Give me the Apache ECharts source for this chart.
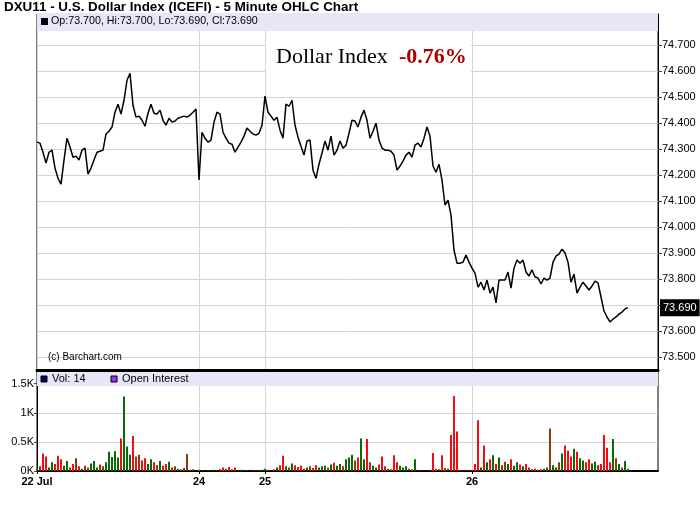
<!DOCTYPE html>
<html><head><meta charset="utf-8">
<script src="https://cdn.jsdelivr.net/npm/echarts@6/dist/echarts.min.js"></script>
<style>html,body{margin:0;padding:0;background:#fff}#c{width:700px;height:512px}</style>
</head><body><div id="c"></div>
<script>
// ---- data ----
const chartTitle = 'DXU11 - U.S. Dollar Index (ICEFI) - 5 Minute OHLC Chart';
const legendText = 'Op:73.700, Hi:73.700, Lo:73.690, Cl:73.690';
const dayLabels = ['22 Jul', '24', '25', '26'];
const dayStartIndex = [0, 54, 76, 145];
const slotCount = 208;
const priceTicks = [73.5, 73.6, 73.7, 73.8, 73.9, 74.0, 74.1, 74.2, 74.3, 74.4, 74.5, 74.6, 74.7];
const priceMin = 73.45, priceMax = 74.82;
const lastPrice = 73.690;
const volumeTicks = [0, 500, 1000, 1500];
const closePrices = [
74.327,74.323,74.288,74.246,74.288,74.296,74.227,74.188,74.165,74.258,
74.342,74.308,74.269,74.273,74.258,74.296,74.304,74.204,74.227,74.258,
74.288,74.292,74.296,74.358,74.369,74.385,74.442,74.473,74.435,74.488,
74.565,74.592,74.469,74.423,74.427,74.411,74.388,74.438,74.473,74.438,
74.435,74.450,74.411,74.392,74.419,74.404,74.408,74.419,74.423,74.427,
74.423,74.431,74.442,74.454,74.181,74.365,74.342,74.327,74.335,74.404,
74.442,74.435,74.365,74.342,74.323,74.319,74.288,74.308,74.327,74.350,
74.381,74.369,74.358,74.354,74.361,74.392,74.504,74.442,74.427,74.411,
74.423,74.373,74.342,74.473,74.465,74.488,74.392,74.346,74.311,74.277,
74.331,74.335,74.219,74.188,74.242,74.285,74.331,74.296,74.350,74.277,
74.296,74.331,74.304,74.315,74.361,74.411,74.408,74.385,74.423,74.450,
74.411,74.342,74.369,74.400,74.335,74.304,74.296,74.296,74.292,74.277,
74.219,74.235,74.254,74.277,74.288,74.269,74.315,74.323,74.308,74.342,
74.385,74.350,74.235,74.211,74.242,74.181,74.085,74.104,74.046,73.911,
73.861,73.861,73.865,73.892,73.865,73.842,73.823,73.769,73.788,73.758,
73.796,73.746,73.769,73.708,73.796,73.796,73.796,73.827,73.765,73.842,
73.873,73.861,73.873,73.827,73.812,73.835,73.808,73.804,73.781,73.804,
73.796,73.804,73.865,73.888,73.896,73.915,73.900,73.865,73.788,73.819,
73.746,73.769,73.788,73.773,73.758,73.773,73.792,73.785,73.731,73.677,
73.654,73.635,73.646,73.654,73.665,73.673,73.685,73.690
];
const volumes = [
40,80,300,250,60,150,120,260,200,90,
170,60,120,220,80,40,90,60,130,170,
60,110,80,150,330,240,340,230,560,1280,
420,280,600,250,280,180,220,120,200,150,
100,170,90,120,160,60,80,40,30,50,
290,20,30,10,20,10,5,15,5,20,
10,30,60,40,70,30,60,10,20,10,
15,5,20,10,15,20,40,20,10,30,
60,100,260,80,60,130,100,70,90,40,
60,80,50,100,60,80,90,60,110,140,
90,120,80,200,230,280,180,230,560,200,
550,150,90,60,110,250,80,40,30,270,
150,90,60,80,40,30,200,20,10,5,
10,20,310,40,30,270,50,40,620,1290,
680,20,10,15,20,10,120,870,60,440,
150,200,270,120,230,100,160,120,200,90,
150,110,80,120,60,30,40,20,30,40,
60,730,100,60,150,300,440,350,250,380,
330,220,180,150,200,130,160,100,120,620,
400,150,550,220,120,60,170,40
];

// ---- build ----
const categories = Array.from({length: slotCount}, (_, i) => String(i));
const isDayStart = (idx) => dayStartIndex.indexOf(idx) >= 0;
const dayLabelOf = (idx) => { const k = dayStartIndex.indexOf(Number(idx)); return k >= 0 ? dayLabels[k] : ''; };
const volumeData = volumes.map((v, i) => {
  const d = i === 0 ? 0 : closePrices[i] - closePrices[i - 1];
  const color = d > 0.008 ? '#0a6a0a' : (d < -0.008 ? '#ee1010' : '#8a3a08');
  return { value: v, itemStyle: { color } };
});
const FONT = '"Liberation Sans", Arial, sans-serif';

const chart = echarts.init(document.getElementById('c'), null, {renderer: 'canvas'});
chart.setOption({
  animation: false,
  backgroundColor: '#fff',
  grid: [
    {left: 37, right: 42, top: 14, height: 356, show: true, borderColor: '#000', borderWidth: 1, backgroundColor: 'transparent'},
    {left: 37, right: 42, top: 372, height: 99, show: true, borderColor: '#000', borderWidth: 1, backgroundColor: 'transparent'}
  ],
  xAxis: [
    {type: 'category', gridIndex: 0, data: categories, boundaryGap: false,
     axisLine: {show: true, onZero: false, lineStyle: {color: '#000', width: 3}},
     axisTick: {show: false}, axisLabel: {show: false},
     splitLine: {show: true, interval: (idx) => isDayStart(idx), lineStyle: {color: '#d4d4d4', width: 1}}},
    {type: 'category', gridIndex: 1, data: categories, boundaryGap: false,
     axisLine: {show: true, onZero: false, lineStyle: {color: '#000', width: 2}},
     axisTick: {show: true, interval: (idx) => isDayStart(idx), length: 3, lineStyle: {color: '#000'}},
     axisLabel: {show: true, interval: (idx) => isDayStart(idx), formatter: (v) => dayLabelOf(v),
       fontFamily: FONT, fontSize: 11, fontWeight: 'bold', color: '#000', margin: 5},
     splitLine: {show: true, interval: (idx) => isDayStart(idx), lineStyle: {color: '#d4d4d4', width: 1}}}
  ],
  yAxis: [
    {type: 'value', gridIndex: 0, position: 'right', min: priceMin, max: priceMax,
     axisLine: {show: true, lineStyle: {color: '#000', width: 1}},
     axisTick: {show: true, customValues: priceTicks, length: 4, lineStyle: {color: '#444'}},
     axisLabel: {show: true, customValues: priceTicks, formatter: (v) => Number(v).toFixed(3),
       fontFamily: FONT, fontSize: 11, color: '#000', margin: 4},
     splitLine: {show: true, lineStyle: {color: '#d4d4d4', width: 1}}},
    {type: 'value', gridIndex: 1, position: 'left', min: 0, max: 1700,
     axisLine: {show: true, lineStyle: {color: '#000', width: 1}},
     axisTick: {show: true, customValues: volumeTicks, length: 3, lineStyle: {color: '#444'}},
     axisLabel: {show: true, customValues: volumeTicks,
       formatter: (v) => v === 0 ? '0K' : (v / 1000) + 'K',
       fontFamily: FONT, fontSize: 11, color: '#000', margin: 3},
     splitLine: {show: true, lineStyle: {color: '#d4d4d4', width: 1}}}
  ],
  series: [
    {type: 'line', name: 'DXU11', xAxisIndex: 0, yAxisIndex: 0, data: closePrices,
     showSymbol: false, symbol: 'none', smooth: false, z: 3,
     lineStyle: {color: '#000', width: 1.5},
     markLine: {silent: true, symbol: 'none', lineStyle: {color: 'rgba(0,0,0,0)', width: 0, type: 'solid'},
       data: [{yAxis: lastPrice}],
       label: {show: true, position: 'end', distance: 2, formatter: (p) => Number(p.value).toFixed(3),
         backgroundColor: '#000', color: '#fff', opacity: 1, fontFamily: FONT, fontSize: 11,
         padding: [4, 3, 2, 3]}}},
    {type: 'bar', name: 'Volume', xAxisIndex: 1, yAxisIndex: 1, data: volumeData,
     barWidth: 2, z: 2}
  ],
  graphic: [
    {type: 'text', left: 4, top: 1, z: 10, style: {text: chartTitle, font: 'bold 13.4px ' + FONT, fill: '#000'}},
    {type: 'rect', shape: {x: 37, y: 13, width: 621, height: 18}, z: 10, style: {fill: '#e6e6f6'}},
    {type: 'rect', shape: {x: 41, y: 18, width: 7, height: 7}, z: 11, style: {fill: '#000'}},
    {type: 'text', x: 51, y: 16, z: 11, style: {text: legendText, font: '10.7px ' + FONT, fill: '#000'}},
    {type: 'rect', shape: {x: 266, y: 34, width: 205, height: 44}, z: 10, style: {fill: '#fff'}},
    {type: 'text', x: 276, y: 46, z: 11, style: {text: 'Dollar Index', font: '22px "Liberation Serif", "Times New Roman", serif', fill: '#000'}},
    {type: 'text', x: 399, y: 46, z: 11, style: {text: '-0.76%', font: 'bold 22px "Liberation Serif", "Times New Roman", serif', fill: '#aa0000'}},
    {type: 'text', x: 48, y: 352, z: 11, style: {text: '(c) Barchart.com', font: '10px ' + FONT, fill: '#000'}},
    {type: 'rect', shape: {x: 37, y: 372, width: 621, height: 14}, z: 10, style: {fill: '#e6e6f6'}},
    {type: 'rect', shape: {x: 41, y: 376, width: 6, height: 6}, z: 11, style: {fill: '#000066', stroke: '#000', lineWidth: 1}},
    {type: 'text', x: 52, y: 373, z: 11, style: {text: 'Vol: 14', font: '11px ' + FONT, fill: '#000'}},
    {type: 'rect', shape: {x: 111, y: 376, width: 6, height: 6}, z: 11, style: {fill: '#9933ff', stroke: '#000', lineWidth: 1}},
    {type: 'text', x: 122, y: 373, z: 11, style: {text: 'Open Interest', font: '11px ' + FONT, fill: '#000'}}
  ]
});
</script>
</body></html>
